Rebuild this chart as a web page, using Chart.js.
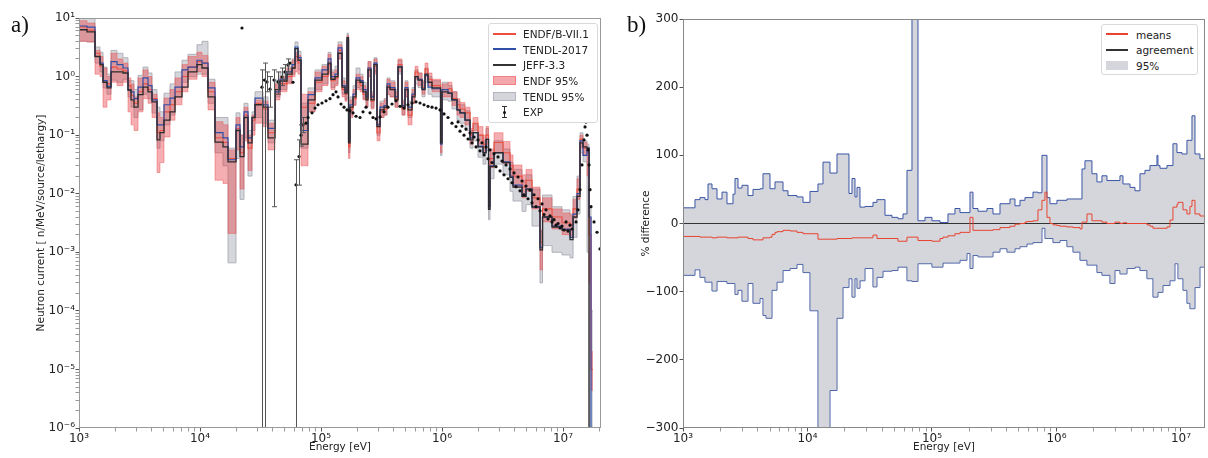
<!DOCTYPE html>
<html>
<head>
<meta charset="utf-8">
<script src="https://cdn.jsdelivr.net/npm/chart.js@4.4.1/dist/chart.umd.min.js"></script>
<style>
  body { margin: 0; background: #fff; }
  #fig { position: relative; width: 1208px; height: 458px; overflow: hidden; font-family: 'DejaVu Sans', sans-serif; }
  canvas { position: absolute; top: 0; }
  .tag { position: absolute; font-family: 'Liberation Serif', serif; font-size: 23px; line-height: 23px; color: #111; }
  .leg { position: absolute; background: #fff; border: 1px solid #d9d9d9; border-radius: 3px; box-sizing: border-box; }
  .leg div { position: absolute; }
  .leg .txt { font-size: 10.5px; line-height: 12px; color: #222; white-space: nowrap; }
  .leg .ln { height: 2px; width: 23px; }
</style>
</head>
<body>
<div id="fig">
  <canvas id="left" width="610" height="458" style="left:0"></canvas>
  <canvas id="right" width="598" height="458" style="left:610px"></canvas>
  <div class="tag" style="left:11px;top:13px">a)</div>
  <div class="tag" style="left:627px;top:13px">b)</div>

  <div class="leg" style="left:488px;top:23px;width:110px;height:100px">
    <div class="ln" style="left:4px;top:9px;background:#ec4f3f"></div>
    <div class="txt" style="left:34px;top:4px">ENDF/B-VII.1</div>
    <div class="ln" style="left:4px;top:24px;background:#2f4fa8"></div>
    <div class="txt" style="left:34px;top:19.5px">TENDL-2017</div>
    <div class="ln" style="left:4px;top:40px;background:#333"></div>
    <div class="txt" style="left:34px;top:35px">JEFF-3.3</div>
    <div style="left:4px;top:52px;width:23px;height:9px;box-sizing:border-box;background:rgba(232,62,70,0.45);border:1px solid rgba(236,90,90,0.5)"></div>
    <div class="txt" style="left:34px;top:51px">ENDF 95%</div>
    <div style="left:4px;top:67.5px;width:23px;height:9px;box-sizing:border-box;background:rgba(160,164,175,0.45);border:1px solid #b4b6bd"></div>
    <div class="txt" style="left:34px;top:66.5px">TENDL 95%</div>
    <div style="left:15px;top:82px;width:1px;height:12px;background:#333"></div>
    <div style="left:13px;top:82px;width:5px;height:1px;background:#333"></div>
    <div style="left:13px;top:93px;width:5px;height:1px;background:#333"></div>
    <div style="left:14px;top:86.5px;width:3px;height:3px;border-radius:50%;background:#111"></div>
    <div class="txt" style="left:34px;top:82px">EXP</div>
  </div>

  <div class="leg" style="left:1101px;top:24px;width:97px;height:51px">
    <div class="ln" style="left:4px;top:8px;width:22px;height:1.5px;background:#e8432f"></div>
    <div class="txt" style="left:34px;top:3.5px">means</div>
    <div class="ln" style="left:4px;top:24px;width:22px;height:1.5px;background:#333"></div>
    <div class="txt" style="left:34px;top:19px">agreement</div>
    <div style="left:4px;top:36px;width:22px;height:9px;background:rgba(160,164,175,0.45)"></div>
    <div class="txt" style="left:34px;top:35px">95%</div>
  </div>
</div>

<script>
// ---------- a) neutron current, group structure (left bin edges, eV) ----------
const binE = [1000, 1164, 1356, 1492, 1580, 1704, 1839, 2061, 2310, 2541,
  2690, 2848, 3074, 3381, 3717, 4012, 4413, 4671, 5041, 5650,
  6215, 7098, 7959, 9445, 10388, 11645, 13305, 15495, 17036, 19837,
  21413, 23099, 24930, 26900, 28480, 33170, 36480, 41670, 45830, 52360,
  57590, 60990, 64560, 68340, 78090, 89220, 101900, 114300, 120900, 130500,
  138200, 149200, 157900, 164000, 168800, 173600, 183900, 194700, 210100, 222400,
  235500, 244600, 259000, 274200, 290300, 307400, 331700, 351200, 371700, 408900,
  432900, 467000, 494500, 523600, 565000, 598300, 633400, 683500, 723600, 766100,
  826700, 972000, 1.0e6, 1.121e6, 1.209e6, 1.33e6, 1.408e6, 1.549e6, 1.704e6, 1.804e6,
  1.984e6, 2.182e6, 2.31e6, 2.423e6, 2.493e6, 2.691e6, 3.192e6, 3.648e6, 3.863e6, 4.584e6,
  4.945e6, 5.543e6, 6.454e6, 6.77e6, 8.111e6, 9.81e6, 1.143e7, 1.21e7, 1.305e7, 1.382e7,
  1.463e7, 1.579e7, 1.64e7, 1.703e7];
const binEnd = 1.77e7;

const jeff = [6.3, 5.8, 2.2, 1.6, 0.8, 0.64, 1.2, 1.2, 1.15, 0.59,
  0.40, 0.30, 0.49, 0.66, 0.55, 0.37, 0.083, 0.11, 0.18, 0.25,
  0.45, 0.66, 1.2, 1.6, 1.4, 0.45, 0.076, 0.063, 0.035, 0.12,
  0.043, 0.2, 0.074, 0.2, 0.33, 0.3, 0.09, 0.6, 0.84, 1.1,
  1.4, 3.0, 1.9, 0.07, 0.4, 0.87, 1.1, 1.7, 0.9, 1.0,
  2.5, 0.66, 0.52, 4.6, 0.074, 0.3, 0.45, 0.87, 0.8, 0.55,
  0.4, 1.3, 0.4, 1.6, 0.14, 0.27, 0.3, 0.66, 0.6, 0.4,
  1.45, 0.3, 0.6, 0.27, 0.45, 1.0, 0.87, 0.6, 1.1, 0.8,
  0.64, 0.074, 0.55, 0.52, 0.4, 0.27, 0.24, 0.18, 0.083, 0.11,
  0.063, 0.05, 0.085, 0.0054, 0.029, 0.05, 0.034, 0.019, 0.013, 0.009,
  0.012, 0.0059, 0.0011, 0.004, 0.0027, 0.0024, 0.00165, 0.004, 0.009, 0.074,
  0.063, 0.06, 1e-9, 1e-9];

const endf = [7.0, 6.2, 2.5, 1.5, 0.8, 0.75, 1.45, 1.35, 1.25, 0.7,
  0.48, 0.35, 0.55, 0.75, 0.6, 0.42, 0.11, 0.12, 0.25, 0.33,
  0.55, 1.0, 1.45, 1.8, 1.7, 0.55, 0.09, 0.075, 0.04, 0.13,
  0.05, 0.22, 0.06, 0.18, 0.35, 0.28, 0.11, 0.5, 0.75, 1.0,
  1.4, 2.2, 1.7, 0.3, 0.35, 0.8, 1.0, 1.6, 0.85, 0.95,
  2.8, 0.6, 0.5, 4.0, 0.063, 0.28, 0.42, 0.8, 0.7, 0.5,
  0.42, 1.4, 0.38, 1.5, 0.11, 0.25, 0.28, 0.7, 0.62, 0.42,
  1.6, 0.28, 0.62, 0.22, 0.48, 1.2, 0.9, 0.65, 1.35, 0.9,
  0.7, 0.08, 0.6, 0.62, 0.42, 0.33, 0.28, 0.24, 0.1, 0.16,
  0.1, 0.07, 0.1, 0.01, 0.04, 0.075, 0.05, 0.03, 0.02, 0.013,
  0.017, 0.0085, 0.0015, 0.0055, 0.004, 0.0032, 0.003, 0.0055, 0.012, 0.085,
  0.06, 0.05, 0.002, 1e-5];

const tendl = [7.3, 7.0, 2.2, 1.7, 0.85, 0.68, 1.8, 1.6, 1.4, 0.59,
  0.55, 0.42, 0.66, 0.95, 0.7, 0.4, 0.15, 0.15, 0.33, 0.43,
  0.66, 1.3, 1.45, 1.9, 1.7, 0.64, 0.11, 0.09, 0.038, 0.15,
  0.063, 0.25, 0.09, 0.2, 0.43, 0.33, 0.13, 0.55, 0.9, 1.2,
  1.6, 3.2, 2.1, 0.12, 0.49, 0.95, 1.3, 2.0, 1.0, 1.1,
  3.1, 0.7, 0.55, 4.2, 0.08, 0.33, 0.5, 0.95, 0.85, 0.6,
  0.45, 1.4, 0.45, 1.7, 0.15, 0.3, 0.32, 0.75, 0.65, 0.45,
  1.5, 0.32, 0.65, 0.3, 0.5, 1.0, 0.9, 0.62, 1.05, 0.66,
  0.62, 0.07, 0.6, 0.52, 0.4, 0.27, 0.24, 0.18, 0.09, 0.11,
  0.065, 0.05, 0.085, 0.006, 0.03, 0.05, 0.035, 0.02, 0.014, 0.009,
  0.012, 0.006, 0.0012, 0.004, 0.0028, 0.0025, 0.0018, 0.0045, 0.01, 0.08,
  0.045, 0.06, 0.004, 1e-9];

const endfLo = [4.0, 3.9, 1.1, 1.0, 0.3, 0.4, 0.8, 0.7, 0.8, 0.25,
  0.15, 0.12, 0.25, 0.42, 0.35, 0.2, 0.023, 0.034, 0.093, 0.18,
  0.33, 0.55, 0.9, 1.2, 1.0, 0.27, 0.017, 0.015, 0.0021, 0.056,
  0.012, 0.08, 0.025, 0.1, 0.16, 0.14, 0.056, 0.4, 0.55, 0.75,
  1.0, 1.2, 1.1, 0.03, 0.25, 0.55, 0.7, 1.1, 0.6, 0.7,
  2.0, 0.45, 0.38, 3.0, 0.04, 0.2, 0.32, 0.6, 0.55, 0.4,
  0.3, 1.0, 0.28, 1.1, 0.08, 0.2, 0.22, 0.5, 0.45, 0.3,
  1.2, 0.22, 0.45, 0.15, 0.35, 0.9, 0.7, 0.5, 1.0, 0.7,
  0.55, 0.05, 0.45, 0.45, 0.32, 0.22, 0.2, 0.15, 0.07, 0.12,
  0.07, 0.05, 0.07, 0.006, 0.028, 0.05, 0.033, 0.019, 0.013, 0.0085,
  0.011, 0.0055, 0.0005, 0.0033, 0.0025, 0.002, 0.0019, 0.0038, 0.008, 0.06,
  0.045, 0.02, 0.0003, 4.4e-6];

const endfHi = [9.0, 8.2, 2.8, 2.2, 1.4, 1.0, 2.5, 2.0, 1.7, 0.95,
  0.75, 0.45, 0.95, 1.3, 1.0, 0.5, 0.24, 0.2, 0.43, 0.6,
  0.95, 1.6, 2.2, 2.6, 2.3, 0.8, 0.17, 0.15, 0.056, 0.2,
  0.1, 0.3, 0.1, 0.22, 0.4, 0.38, 0.16, 0.75, 1.0, 1.4,
  1.9, 2.6, 2.3, 0.5, 0.55, 1.2, 1.5, 2.4, 1.2, 1.3,
  3.5, 0.85, 0.7, 5.0, 0.1, 0.4, 0.6, 1.1, 1.0, 0.7,
  0.55, 1.8, 0.5, 2.0, 0.16, 0.35, 0.4, 0.9, 0.8, 0.55,
  2.0, 0.38, 0.8, 0.3, 0.6, 1.5, 1.15, 0.85, 1.7, 1.15,
  0.9, 0.1, 0.75, 0.8, 0.55, 0.42, 0.36, 0.3, 0.13, 0.2,
  0.14, 0.1, 0.14, 0.016, 0.058, 0.11, 0.078, 0.046, 0.031, 0.021,
  0.026, 0.013, 0.0024, 0.0085, 0.0055, 0.0047, 0.0043, 0.008, 0.018, 0.1,
  0.075, 0.06, 0.004, 2e-5];

const tendlLo = [4.0, 3.9, 1.7, 1.2, 0.64, 0.5, 0.87, 0.8, 0.9, 0.45,
  0.3, 0.2, 0.27, 0.5, 0.42, 0.24, 0.06, 0.08, 0.15, 0.22,
  0.45, 0.8, 1.0, 1.1, 1.1, 0.35, 0.05, 0.03, 0.00066, 0.04,
  0.008, 0.09, 0.02, 0.12, 0.2, 0.16, 0.074, 0.45, 0.6, 0.8,
  1.1, 1.8, 1.3, 0.06, 0.25, 0.6, 0.75, 1.2, 0.65, 0.75,
  2.0, 0.5, 0.4, 3.0, 0.05, 0.22, 0.33, 0.65, 0.6, 0.42,
  0.3, 1.0, 0.3, 1.2, 0.1, 0.2, 0.22, 0.5, 0.45, 0.3,
  1.1, 0.22, 0.45, 0.2, 0.35, 0.75, 0.65, 0.45, 0.8, 0.5,
  0.45, 0.045, 0.4, 0.38, 0.28, 0.18, 0.16, 0.12, 0.06, 0.08,
  0.042, 0.032, 0.055, 0.0036, 0.018, 0.032, 0.021, 0.011, 0.0075, 0.005,
  0.0065, 0.0028, 0.0003, 0.0013, 0.001, 0.0009, 0.0008, 0.0018, 0.0045, 0.05,
  0.035, 0.001, 1e-9, 1e-9];

const tendlHi = [12, 11, 3.2, 2.6, 1.45, 1.1, 2.8, 2.5, 2.1, 0.85,
  0.85, 0.6, 1.05, 1.45, 1.15, 0.6, 0.3, 0.25, 0.52, 0.75,
  1.2, 1.9, 2.4, 3.5, 4.0, 0.9, 0.2, 0.2, 0.06, 0.24,
  0.1, 0.35, 0.12, 0.25, 0.55, 0.45, 0.18, 0.87, 1.2, 1.5,
  2.0, 3.9, 2.7, 0.35, 0.64, 1.3, 1.6, 2.6, 1.3, 1.5,
  3.9, 0.95, 0.75, 5.5, 0.12, 0.45, 0.7, 1.4, 1.1, 0.8,
  0.6, 1.8, 0.55, 2.1, 0.2, 0.38, 0.42, 0.95, 0.85, 0.6,
  1.9, 0.4, 0.85, 0.38, 0.65, 1.3, 1.15, 0.8, 1.4, 1.0,
  0.85, 0.1, 0.8, 0.7, 0.55, 0.38, 0.33, 0.26, 0.12, 0.15,
  0.1, 0.08, 0.13, 0.01, 0.05, 0.08, 0.058, 0.034, 0.026, 0.017,
  0.021, 0.012, 0.0023, 0.0095, 0.006, 0.0053, 0.0045, 0.009, 0.02, 0.11,
  0.08, 0.07, 0.006, 1e-4];

// measured spectrum
const expE = [22230, 32530, 34120, 35790, 37890, 40890, 44120, 47620, 50410, 53370,
  55430, 58700, 62140, 65800, 68340, 71000, 75160, 78090, 84270, 89220,
  94460, 101900, 110000, 118700, 125700, 133000, 138200, 146300, 155000, 164000,
  173600, 183900, 194700, 210100, 222400, 235500, 254100, 269000, 284800, 307400,
  331700, 357900, 386200, 416700, 449800, 485300, 523600, 565000, 609800, 658000,
  710000, 766100, 826700, 892100, 962700, 1.039e6, 1.121e6, 1.209e6, 1.305e6, 1.408e6,
  1.52e6, 1.64e6, 1.77e6, 1.91e6, 2.061e6, 2.224e6, 2.4e6, 2.59e6, 2.794e6, 3.015e6,
  3.254e6, 3.511e6, 3.789e6, 4.088e6, 4.412e6, 4.761e6, 5.137e6, 5.543e6, 5.981e6, 6.454e6,
  6.966e6, 7.516e6, 8.111e6, 8.752e6, 9.445e6, 1.019e7, 1.1e7, 1.187e7, 1.281e7, 1.33e7,
  1.382e7, 1.435e7, 1.491e7, 1.52e7, 1.549e7, 1.579e7, 1.609e7, 1.64e7, 1.672e7, 1.703e7,
  1.804e7, 1.91e7, 2.02e7,
  1.356e6, 1.463e6, 1.579e6, 1.704e6, 1.839e6, 1.984e6, 2.141e6, 2.31e6, 2.493e6, 2.691e6,
  2.903e6, 3.132e6, 3.38e6, 3.648e6, 3.936e6, 4.247e6, 4.584e6, 4.945e6, 5.337e6, 5.759e6,
  6.215e6, 6.706e6, 7.236e6, 7.808e6, 8.425e6, 9.092e6, 9.81e6, 1.059e7, 1.143e7];
const expV = [6.75, 0.66, 0.87, 0.81, 0.61, 0.87, 0.81, 0.98, 1.2, 1.58,
  1.7, 0.8, 0.0142, 0.043, 0.1, 0.15, 0.16, 0.2, 0.24, 0.29,
  0.33, 0.354, 0.385, 0.42, 0.49, 0.55, 0.45, 0.34, 0.3, 0.27,
  0.26, 0.24, 0.21, 0.2, 0.25, 0.3, 0.24, 0.2, 0.19, 0.205,
  0.25, 0.3, 0.34, 0.385, 0.31, 0.29, 0.33, 0.354, 0.37, 0.354,
  0.33, 0.31, 0.3, 0.29, 0.27, 0.23, 0.2, 0.16, 0.14, 0.117,
  0.1, 0.086, 0.074, 0.063, 0.054, 0.046, 0.0395, 0.034, 0.029, 0.0245,
  0.021, 0.018, 0.0154, 0.0132, 0.0112, 0.0096, 0.0082, 0.007, 0.006, 0.0051,
  0.0044, 0.0037, 0.0033, 0.0029, 0.0026, 0.0024, 0.0023, 0.0025, 0.0033, 0.0053,
  0.0117, 0.031, 0.083, 0.138, 0.167, 0.1, 0.056, 0.031, 0.0117, 0.006,
  0.0033, 0.0022, 0.00114,
  0.168, 0.143, 0.127, 0.109, 0.093, 0.083, 0.074, 0.063, 0.056, 0.048,
  0.0425, 0.0362, 0.031, 0.0265, 0.0226, 0.0193, 0.0165, 0.0135, 0.0115, 0.0096,
  0.0082, 0.0067, 0.0053, 0.0042, 0.0036, 0.0031, 0.0028, 0.0033, 0.0029];
// points that carry a visible error bar
const errE  = [32530, 34120, 35790, 37890, 40890, 44120, 47620, 50410, 53370, 62140, 65800, 68340, 71000];
const errLo = [1e-9, 1e-9, 0.55, 0.3, 0.006, 0.5, 0.7, 0.9, 1.2, 1e-9, 0.014, 0.065, 0.11];
const errHi = [1.3, 1.7, 1.2, 1.0, 1.3, 1.2, 1.4, 1.6, 2.0, 0.038, 0.083, 0.15, 0.2];

// ---------- b) % difference ----------
const diffE = [1000, 1248, 1369, 1502, 1588, 1710, 1876, 2058, 2256, 2521,
  2617, 2766, 2978, 3327, 3649, 4155, 4391, 4642, 4998, 5186,
  5483, 5689, 6358, 6973, 7236, 8234, 9203, 10474, 12143, 13320,
  15160, 17257, 19280, 21540, 22780, 24070, 24990, 26410, 28960, 33590,
  36150, 40410, 41930, 47720, 53330, 58500, 62980, 69080, 77190, 87850,
  100000, 115980, 122600, 134450, 152990, 167840, 191030, 201980, 213520, 234220,
  276540, 309030, 351800, 400400, 423200, 464200, 509200, 558400, 579500, 647500,
  710300, 764700, 808200, 838700, 886600, 937400, 1.009e6, 1.067e6, 1.214e6, 1.357e6,
  1.545e6, 1.603e6, 1.694e6, 1.758e6, 1.928e6, 2.115e6, 2.32e6, 2.544e6, 2.69e6, 2.95e6,
  3.236e6, 3.421e6, 3.684e6, 3.895e6, 4.272e6, 4.685e6, 5.138e6, 5.332e6, 5.636e6, 5.958e6,
  6.415e6, 6.536e6, 6.783e6, 7.169e6, 7.721e6, 8.16e6, 8.626e6, 8.951e6, 9.288e6, 9.461e6,
  1.019e7, 1.038e7, 1.117e7, 1.181e7, 1.226e7, 1.296e7, 1.421e7];
const diffEnd = 1.56e7;

const upper95 = [23, 35, 38, 35, 58, 51, 36, 46, 29, 43,
  66, 52, 56, 41, 50, 51, 73, 73, 51, 51,
  61, 61, 48, 41, 41, 39, 31, 47, 58, 90,
  74, 102, 102, 44, 66, 39, 53, 24, 25, 31,
  35, 35, 12, 9, 7, 14, 78, 400, 4, 9,
  4, 1.5, 1.5, 14, 22, 16, 16, 46, 22, 18,
  22, 14, 29, 29, 36, 26, 34, 38, 38, 46,
  45, 100, 100, 38, 29, 29, 34, 34, 36, 36,
  36, 80, 92, 92, 73, 61, 70, 63, 63, 63,
  70, 58, 58, 53, 48, 73, 78, 78, 85, 85,
  100, 85, 81, 81, 85, 85, 117, 117, 104, 104,
  102, 102, 122, 122, 158, 102, 95];

const lower95 = [-76, -68, -79, -86, -86, -99, -85, -85, -88, -88,
  -104, -98, -114, -88, -117, -110, -135, -139, -139, -98,
  -98, -86, -69, -69, -66, -60, -72, -128, -400, -400,
  -245, -139, -94, -81, -108, -81, -95, -84, -66, -93,
  -79, -70, -70, -69, -64, -64, -84, -85, -59, -59,
  -64, -64, -58, -58, -58, -54, -44, -66, -47, -49,
  -49, -42, -37, -42, -42, -37, -34, -34, -30, -28,
  -28, -7, -22, -22, -22, -28, -28, -25, -34, -42,
  -54, -54, -54, -61, -61, -72, -76, -76, -88, -69,
  -74, -74, -66, -66, -64, -69, -69, -81, -81, -108,
  -108, -101, -101, -91, -91, -84, -84, -59, -59, -81,
  -81, -98, -117, -125, -125, -94, -64];

const means = [-19, -19, -20, -20, -20, -21, -20, -20, -21, -21,
  -21, -20, -20, -22, -24, -24, -21, -21, -20, -16,
  -13, -12, -10, -10, -11, -13, -15, -15, -23, -23,
  -23, -22, -22, -22, -21, -21, -21, -21, -21, -17,
  -22, -22, -22, -22, -26, -26, -20, -20, -25, -25,
  -26, -22, -20, -18, -15, -13, -13, 9, -10, -10,
  -10, -9, -6, -6, -4, -1, 0, 2, 3, 4,
  20, 34, 46, 9, 0, -2, -3, -4, -5, -6,
  -8, 2, 2, 14, 4, 4, 2, 0, 0, 2,
  0, 1, 0, 0, 0, 0, 0, -2, -4, -7,
  -7, -7, -7, -7, -5, 5, 24, 24, 28, 31,
  31, 20, 14, 25, 34, 14, 11];

const agreeE = [1000, 1.56e7];
const agree = [0, 0];

// ---------- helpers ----------
function steps(edges, end, vals) {
  const pts = edges.map((x, i) => ({ x, y: vals[i] }));
  pts.push({ x: end, y: vals[vals.length - 1] });
  return pts;
}
const SUP = { '-': '\u207b', '0': '\u2070', '1': '\u00b9', '2': '\u00b2', '3': '\u00b3', '4': '\u2074',
  '5': '\u2075', '6': '\u2076', '7': '\u2077', '8': '\u2078', '9': '\u2079' };
function pow10Label(v) {
  const e = Math.log10(v);
  if (Math.abs(e - Math.round(e)) > 1e-6) return '';
  return '10' + String(Math.round(e)).split('').map(c => SUP[c]).join('');
}
function logTicks(lo, hi) {
  const out = [];
  for (let e = Math.floor(Math.log10(lo)); e <= Math.ceil(Math.log10(hi)); e++) {
    for (let k = 1; k < 10; k++) {
      const v = k * Math.pow(10, e);
      if (v >= lo * 0.999 && v <= hi * 1.001) out.push({ value: v, major: k === 1 });
    }
  }
  return out;
}

const FONT = { family: 'DejaVu Sans', size: 10.5 };
const TICKFONT = { family: 'DejaVu Sans', size: 12 };
const INK = '#222';

const frame = {
  id: 'frame',
  afterDatasetsDraw(chart, args, opts) {
    const { ctx, chartArea: a } = chart;
    ctx.save();
    ctx.strokeStyle = opts.color;
    ctx.lineWidth = 1;
    ctx.strokeRect(Math.round(a.left) + 0.5, Math.round(a.top) + 0.5,
      Math.round(a.width) - 1, Math.round(a.height) - 1);
    ctx.restore();
  }
};

const errorBars = {
  id: 'errorBars',
  afterDatasetsDraw(chart) {
    const { ctx, chartArea: a, scales: { x, y } } = chart;
    ctx.save();
    ctx.beginPath();
    ctx.rect(a.left, a.top, a.width, a.height);
    ctx.clip();
    ctx.strokeStyle = '#555';
    ctx.lineWidth = 1;
    errE.forEach((e, i) => {
      const px = Math.round(x.getPixelForValue(e)) + 0.5;
      const top = y.getPixelForValue(errHi[i]);
      const bot = Math.min(y.getPixelForValue(errLo[i]), a.bottom + 5);
      ctx.beginPath();
      ctx.moveTo(px, top); ctx.lineTo(px, bot);
      ctx.moveTo(px - 2.5, top); ctx.lineTo(px + 2.5, top);
      ctx.moveTo(px - 2.5, bot); ctx.lineTo(px + 2.5, bot);
      ctx.stroke();
    });
    ctx.restore();
  }
};

function logAxis(min, max, fitFn) {
  return {
    type: 'logarithmic', min, max,
    afterBuildTicks: s => { s.ticks = logTicks(min, max); },
    afterFit: fitFn,
    border: { display: false },
    grid: {
      drawOnChartArea: false, tickLength: 3.5,
      tickColor: c => (c.tick && c.tick.major ? '#555' : '#999')
    },
    ticks: { autoSkip: false, maxRotation: 0, padding: 0.5, color: INK, font: TICKFONT, callback: v => pow10Label(v) }
  };
}

// ---------- chart a) ----------
const pink = 'rgba(232,62,70,0.42)';
const pinkEdge = 'rgba(236,80,80,0.55)';
const grey = 'rgba(160,164,175,0.45)';
const greyEdge = '#a4a6ad';

const xA = logAxis(1e3, 2.06e7, s => { s.height = 30; });
xA.title = { display: true, text: 'Energy [eV]', color: INK, font: FONT, padding: { top: 0, bottom: 4 } };
const yA = logAxis(1e-6, 10, s => { s.width = 49; });
yA.title = { display: true, text: 'Neutron current [ n/MeV/source/lethargy]', color: INK, font: FONT, padding: { top: 4.5, bottom: 0 } };

new Chart(document.getElementById('left'), {
  type: 'line',
  data: {
    datasets: [
      { label: 'EXP', data: expE.map((e, i) => ({ x: e, y: expV[i] })), showLine: false,
        pointRadius: 1.6, pointBackgroundColor: '#111', pointBorderWidth: 0 },
      { label: 'JEFF-3.3', data: steps(binE, binEnd, jeff), stepped: true,
        borderColor: '#2b2b2b', borderWidth: 1.3, pointRadius: 0 },
      { label: 'TENDL-2017', data: steps(binE, binEnd, tendl), stepped: true,
        borderColor: '#2f4fa8', borderWidth: 1.2, pointRadius: 0 },
      { label: 'ENDF/B-VII.1', data: steps(binE, binEnd, endf), stepped: true,
        borderColor: '#ec4f3f', borderWidth: 1.1, pointRadius: 0 },
      { label: 'ENDF 95%', data: steps(binE, binEnd, endfHi), stepped: true, fill: '+1',
        backgroundColor: pink, borderColor: pinkEdge, borderWidth: 0.8, pointRadius: 0 },
      { label: 'ENDF 95% low', data: steps(binE, binEnd, endfLo), stepped: true,
        borderColor: pinkEdge, borderWidth: 0.8, pointRadius: 0 },
      { label: 'TENDL 95%', data: steps(binE, binEnd, tendlHi), stepped: true, fill: '+1',
        backgroundColor: grey, borderColor: greyEdge, borderWidth: 0.8, pointRadius: 0 },
      { label: 'TENDL 95% low', data: steps(binE, binEnd, tendlLo), stepped: true,
        borderColor: greyEdge, borderWidth: 0.8, pointRadius: 0 }
    ]
  },
  options: {
    responsive: false, animation: false, events: [],
    layout: { padding: { left: 30, right: 9, top: 18, bottom: 0 } },
    scales: { x: xA, y: yA },
    plugins: { legend: { display: false }, tooltip: { enabled: false }, frame: { color: '#9a9a9a' } }
  },
  plugins: [errorBars, frame]
});

// ---------- chart b) ----------
const xB = logAxis(1e3, 1.56e7, s => { s.height = 30; });
xB.title = { display: true, text: 'Energy [eV]', color: INK, font: FONT, padding: { top: 0, bottom: 4 } };

new Chart(document.getElementById('right'), {
  type: 'line',
  data: {
    datasets: [
      { label: 'means', data: steps(diffE, diffEnd, means), stepped: true,
        borderColor: '#e8432f', borderWidth: 1, pointRadius: 0 },
      { label: 'agreement', data: agreeE.map((e, i) => ({ x: e, y: agree[i] })),
        borderColor: '#333', borderWidth: 1.2, pointRadius: 0 },
      { label: '95%', data: steps(diffE, diffEnd, upper95), stepped: true, fill: '+1',
        backgroundColor: grey, borderColor: '#3a55a6', borderWidth: 1, pointRadius: 0 },
      { label: '95% low', data: steps(diffE, diffEnd, lower95), stepped: true,
        borderColor: '#3a55a6', borderWidth: 1, pointRadius: 0 }
    ]
  },
  options: {
    responsive: false, animation: false, events: [],
    layout: { padding: { left: 24, right: 3, top: 19, bottom: 0 } },
    scales: {
      x: xB,
      y: {
        min: -300, max: 300,
        afterFit: s => { s.width = 49; },
        border: { display: false },
        grid: { drawOnChartArea: false, tickLength: 3.5, tickColor: '#555' },
        ticks: { stepSize: 100, padding: 1, color: INK, font: TICKFONT,
          callback: v => (v < 0 ? '\u2212' + Math.abs(v) : String(v)) },
        title: { display: true, text: '% difference', color: INK, font: FONT, padding: { top: 6, bottom: 0 } }
      }
    },
    plugins: { legend: { display: false }, tooltip: { enabled: false }, frame: { color: '#888' } }
  },
  plugins: [frame]
});
</script>
</body>
</html>
